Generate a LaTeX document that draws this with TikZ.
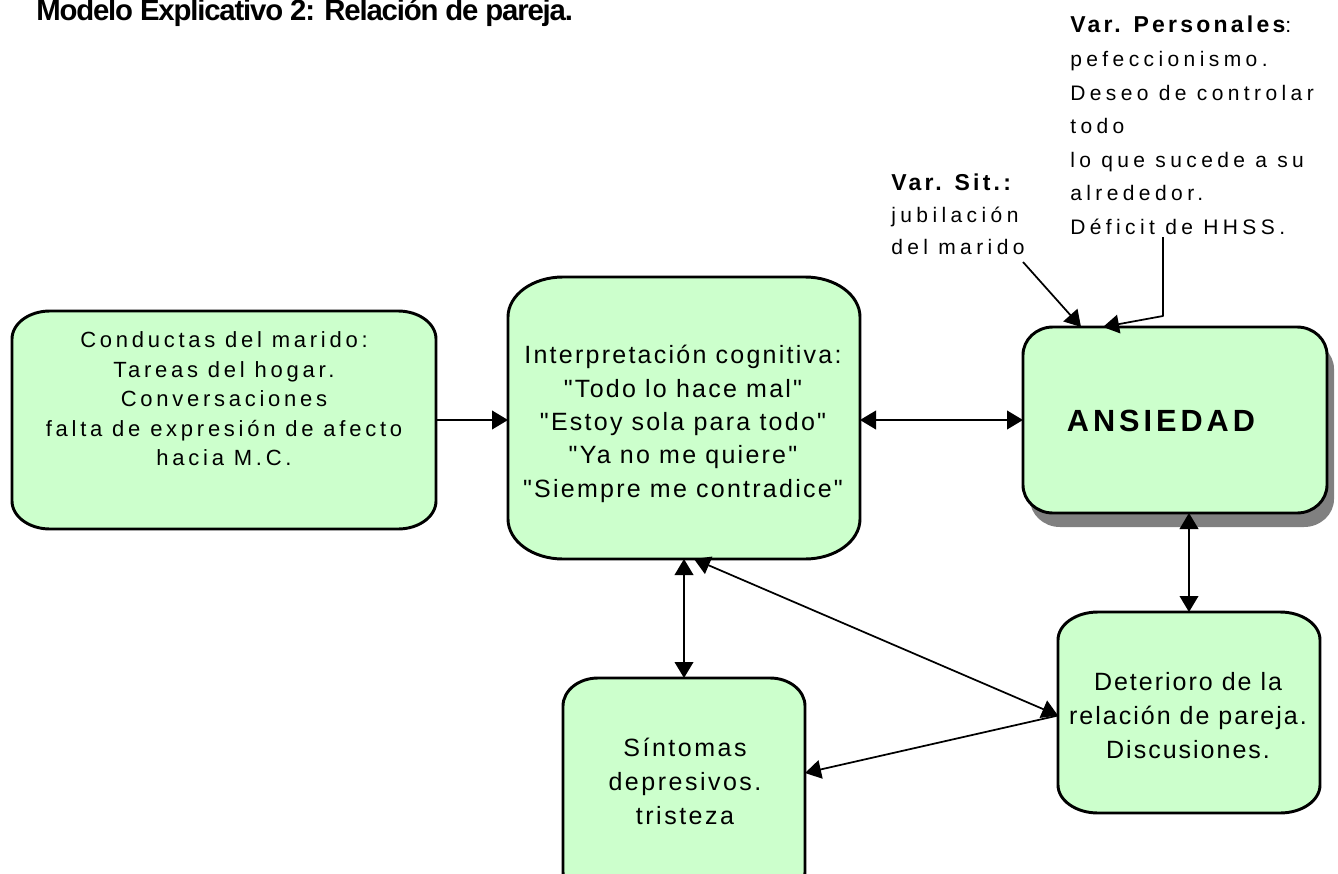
\documentclass[tikz,border=0pt]{standalone}
\usepackage{fontspec}
\setmainfont{Liberation Sans}
\usetikzlibrary{arrows.meta,calc}
\newfontfamily\ftitle[LetterSpace=-4]{Liberation Sans}
\newfontfamily\fleft[LetterSpace=17]{Liberation Sans}
\newfontfamily\fmid[LetterSpace=9]{Liberation Sans}
\newfontfamily\fdet[LetterSpace=8]{Liberation Sans}
\newfontfamily\fsin[LetterSpace=10]{Liberation Sans}
\newfontfamily\fvar[LetterSpace=21]{Liberation Sans}
\newfontfamily\fvarhead[LetterSpace=14]{Liberation Sans}
\newfontfamily\fans[LetterSpace=13]{Liberation Sans}
\definecolor{boxgreen}{RGB}{204,255,204}
\definecolor{shadowgray}{RGB}{128,128,128}
% rounded rectangle with elliptical corners: style, x1,y1,x2,y2 (pixels, y down), rx, ry
\newcommand\eshape[7]{%
  \path[#1] ({#2+#6},{-#3}) -- ({#4-#6},{-#3})
   arc[start angle=90,end angle=0,x radius=#6,y radius=#7]
   -- ({#4},{-#5+#7})
   arc[start angle=0,end angle=-90,x radius=#6,y radius=#7]
   -- ({#2+#6},{-#5})
   arc[start angle=270,end angle=180,x radius=#6,y radius=#7]
   -- ({#2},{-#3-#7})
   arc[start angle=180,end angle=90,x radius=#6,y radius=#7]
   -- cycle;}
\newcommand\mkboxnode[5]{%
  \node[anchorbox, minimum width={(#4-#2)*0.75pt}, minimum height={(#5-#3)*0.75pt}] (#1) at ({(#2+#4)/2},{-(#3+#5)/2}) {};}
\begin{document}
\begin{tikzpicture}[x=0.75pt,y=0.75pt,line join=round,
  boxshape/.style={draw=black,line width=2.2pt,fill=boxgreen},
  shadowshape/.style={fill=shadowgray},
  anchorbox/.style={draw=none,fill=none,inner sep=0pt,outer sep=0pt,rectangle},
  txt/.style={inner sep=0pt,align=center},
  vartxt/.style={inner sep=0pt,align=left,anchor=north west},
  conn/.style={line width=1.3pt,draw=black},
  oneway/.style={conn,-{Triangle[length=12pt,width=14pt]}},
  twoway/.style={conn,{Triangle[length=12pt,width=14pt]}-{Triangle[length=12pt,width=14pt]}}]

\useasboundingbox (0,0) rectangle (1338,-874);
\fill[white] (0,0) rectangle (1338,-874);

% title (cut at the top edge, as in the reference)
\node[anchor=base west,inner sep=0pt,font=\ftitle\bfseries\fontsize{22pt}{26pt}\selectfont] (title) at (36,-21) {Modelo Explicativo 2: Relación de pareja.};

% boxes
\eshape{boxshape}{12}{311}{436}{529}{38}{28}
\mkboxnode{cond}{12}{311}{436}{529}
\eshape{boxshape}{508}{277}{860}{559}{55}{40}
\mkboxnode{interp}{508}{277}{860}{559}
\eshape{shadowshape}{1030}{341}{1334}{527}{30}{28}
\eshape{boxshape}{1023}{327}{1327}{513}{30}{28}
\mkboxnode{ans}{1023}{327}{1327}{513}
\eshape{boxshape}{1058}{612}{1320}{813}{40}{28}
\mkboxnode{det}{1058}{612}{1320}{813}
\eshape{boxshape}{563}{678}{805}{900}{35}{28}
\mkboxnode{sin}{563}{678}{805}{900}

% box texts
\node[txt,font=\fleft\fontsize{16.5pt}{22.1pt}\selectfont] (condtxt) at (224,-399)
  {Conductas del marido:\\Tareas del hogar.\\Conversaciones\\falta de expresión de afecto\\hacia M.C.};
\node[txt,font=\fmid\fontsize{18.75pt}{25pt}\selectfont] (interptxt) at (683,-424)
  {Interpretación cognitiva:\\"Todo lo hace mal"\\"Estoy sola para todo"\\"Ya no me quiere"\\"Siempre me contradice"};
\node[txt,font=\fans\bfseries\fontsize{23pt}{28pt}\selectfont] (anstxt) at (1161,-421) {ANSIEDAD};
\node[txt,font=\fdet\fontsize{18.75pt}{25.5pt}\selectfont] (dettxt) at (1188,-716)
  {Deterioro de la\\relación de pareja.\\Discusiones.};
\node[txt,font=\fsin\fontsize{18.75pt}{25.5pt}\selectfont] (sintxt) at (685,-781)
  {Síntomas\\depresivos.\\tristeza};

% side variables
\node[vartxt,font=\fvar\fontsize{15.75pt}{25.2pt}\selectfont] (varpers) at (1070,-16)
  {{\fvarhead\bfseries\fontsize{17.25pt}{25.2pt}\selectfont Var. Personales}:\\pefeccionismo.\\Deseo de controlar\\todo\\lo que sucede a su\\alrededor.\\Déficit de HHSS.};
\node[vartxt,font=\fvar\fontsize{15.75pt}{24pt}\selectfont] (varsit) at (891,-174)
  {{\fvarhead\bfseries\fontsize{17.25pt}{24pt}\selectfont Var. Sit.:}\\jubilación\\del marido};

% connectors
\draw[oneway] (cond.east) -- (cond.east -| interp.west);
\draw[twoway] (ans.west -| interp.east) -- (ans.west);
\draw[twoway] (det.north |- ans.south) -- (det.north);
\draw[twoway] (interp.south) -- (sin.north);
\coordinate (detleft) at ($(det.west)+(0,-3)$);
\draw[twoway] (detleft) -- ($(interp.south)+(10,0)$);
\draw[oneway] (detleft) -- ($(sin.east)+(0,16)$);

\coordinate (sitfrom) at (1023,-262);
\draw[oneway] (sitfrom) -- ($(ans.north west)+(58,0)$);
\coordinate (persfrom) at (1163,-237);
\draw[oneway] (persfrom) -- (1163,-316) -- ($(ans.north west)+(80,0)$);
\end{tikzpicture}
\end{document}
